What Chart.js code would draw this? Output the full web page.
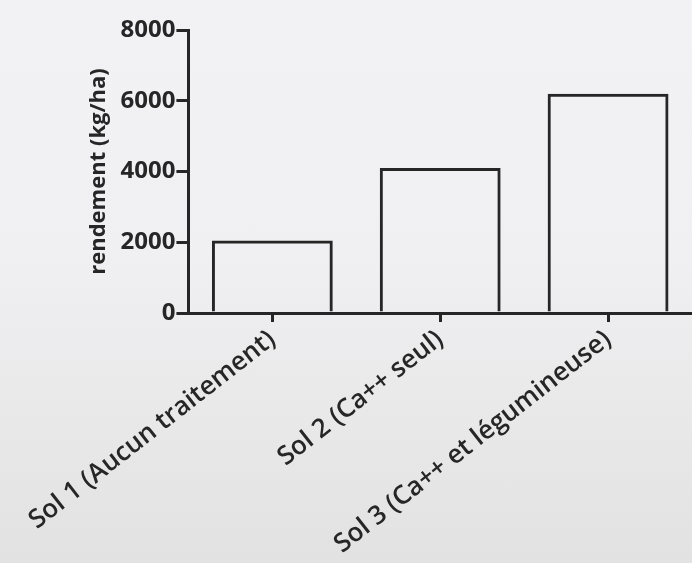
<!DOCTYPE html>
<html>
<head>
<meta charset="utf-8">
<script src="https://cdn.jsdelivr.net/npm/chart.js@4"></script>
<style>
  body {
    margin: 0;
    background: linear-gradient(to bottom, #f2f2f4 0%, #f0f0f2 45%, #e2e2e2 100%);
  }
  #wrap { width: 692px; height: 563px; }
</style>
</head>
<body>
<div id="wrap"><canvas id="graphique"></canvas></div>
<script>
  // donnees
  const sols = ["Sol 1 (Aucun traitement)", "Sol 2 (Ca++ seul)", "Sol 3 (Ca++ et légumineuse)"];
  const rendement = [2050, 4100, 6200];
  const yTicks = [0, 2000, 4000, 6000, 8000];

  const encre = "#262626";

  const ctx = document.getElementById("graphique").getContext("2d");
  window.diagramm = new Chart(ctx, {
    type: "bar",
    data: {
      labels: sols,
      datasets: [
        {
          label: "rendement",
          data: rendement,
          backgroundColor: "rgba(255,255,255,0)",
          borderColor: encre,
          borderWidth: 3,
          borderSkipped: "bottom",
          barPercentage: 0.72,
          categoryPercentage: 1,
        },
      ],
    },
    options: {
      responsive: true,
      maintainAspectRatio: false,
      animation: false,
      layout: {
        padding: { left: 76, top: 30, right: 0, bottom: 0 },
      },
      plugins: {
        legend: { display: false },
        tooltip: { enabled: false },
      },
      scales: {
        x: {
          offset: true,
          border: { display: true, color: encre, width: 3 },
          grid: {
            offset: false,
            drawOnChartArea: false,
            drawTicks: true,
            tickLength: 9,
            color: encre,
            lineWidth: 3,
          },
          ticks: {
            minRotation: 38,
            maxRotation: 38,
            color: encre,
            padding: 2,
            font: { family: "Open Sans", size: 26, weight: "600" },
          },
          afterFit: function (scale) {
            scale.height = 250;
          },
        },
        y: {
          min: 0,
          max: 8000,
          afterBuildTicks: function (scale) {
            scale.ticks = yTicks.map(function (v) { return { value: v }; });
          },
          border: { display: true, color: encre, width: 3 },
          grid: {
            drawOnChartArea: false,
            drawTicks: true,
            tickLength: 12,
            color: encre,
            lineWidth: 3,
          },
          ticks: {
            color: encre,
            padding: 1,
            font: { family: "Open Sans", size: 24, weight: "bold" },
            callback: function (value) {
              return String(value);
            },
          },
          title: {
            display: true,
            text: "rendement (kg/ha)",
            color: encre,
            padding: { top: 4, bottom: 0 },
            font: { family: "Open Sans", size: 22, weight: "bold" },
          },
          afterFit: function (scale) {
            scale.width = 107;
          },
        },
      },
    },
  });
</script>
</body>
</html>
